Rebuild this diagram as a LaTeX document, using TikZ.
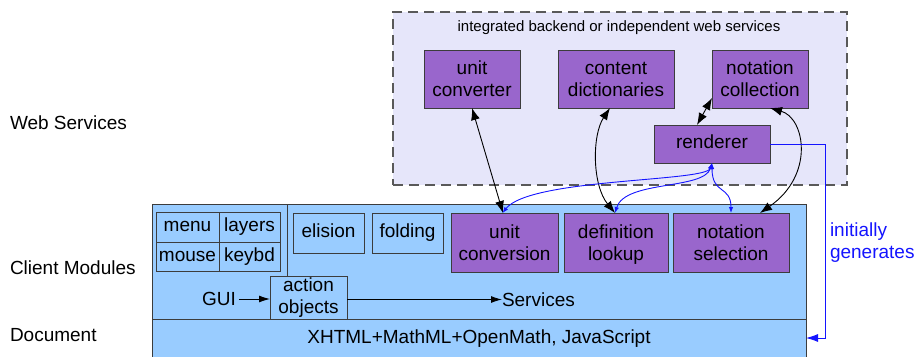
\documentclass[tikz,border=0pt]{standalone}
\usepackage{fontspec}
\setmainfont{Liberation Sans}
\usetikzlibrary{arrows.meta,calc}
\definecolor{purp}{RGB}{153,102,204}
\definecolor{lblue}{RGB}{153,204,255}
\definecolor{lav}{RGB}{230,230,250}
\definecolor{bord}{RGB}{60,60,60}
\definecolor{blueline}{RGB}{20,20,255}
\begin{document}
\begin{tikzpicture}[x=1pt,y=-1pt,
  every node/.style={font=\fontsize{19}{22}\selectfont, inner sep=0pt, outer sep=0pt},
  pbox/.style={draw=bord, line width=1pt, fill=purp, align=center},
  bbox/.style={draw=bord, line width=1pt, fill=lblue, align=center},
  oneline/.style={text height=13.5pt, text depth=4pt},
  blk/.style={line width=0.9pt, {Latex[length=12pt,width=9pt]}-{Latex[length=12pt,width=9pt]}},
  blu/.style={draw=blueline, line width=0.9pt, {Latex[length=6pt,width=4.5pt]}-{Latex[length=6pt,width=4.5pt]}},
  lbl/.style={anchor=west}
]
\useasboundingbox (0,0) rectangle (917,356);
% web services region
\node[draw=black!65, dashed, dash pattern=on 10pt off 6pt, line width=1.4pt, fill=lav,
      minimum width=454pt, minimum height=173pt] (ws) at (620,98.5) {};
\node[font=\fontsize{15}{17}\selectfont] (wstitle) at (619,28) {integrated backend or independent web services};
\node[pbox, minimum width=96pt, minimum height=58pt] (uconv) at (472,79) {unit\\converter};
\node[pbox, minimum width=116pt, minimum height=58pt] (cdict) at (616,79) {content\\dictionaries};
\node[pbox, minimum width=96pt, minimum height=58pt] (ncoll) at (760,79) {notation\\collection};
\node[pbox, oneline, minimum width=116pt, minimum height=38pt] (rend) at (712,144) {renderer};
% client modules
\node[bbox, minimum width=654pt, minimum height=115pt] (client) at (479,261.5) {};
\node[bbox, oneline, minimum width=654pt, minimum height=40pt] (doc) at (479,339) {XHTML+MathML+OpenMath, JavaScript};
\coordinate (divtop) at (287,204);
\coordinate (divbot) at (287,276);
\draw[bord, line width=1pt] (divtop) -- (divbot);
\node[bbox, oneline, minimum width=63pt, minimum height=30pt] (menu) at (187.5,227) {menu};
\node[bbox, oneline, minimum width=61pt, minimum height=30pt] (layers) at (249.5,227) {layers};
\node[bbox, oneline, minimum width=63pt, minimum height=29pt] (mouse) at (187.5,256.5) {mouse};
\node[bbox, oneline, minimum width=61pt, minimum height=29pt] (keybd) at (249.5,256.5) {keybd};
\node[bbox, oneline, minimum width=71pt, minimum height=40pt] (elision) at (328.5,233) {elision};
\node[bbox, oneline, minimum width=71pt, minimum height=40pt] (folding) at (407.5,233) {folding};
\node[pbox, minimum width=107pt, minimum height=59pt] (uconvn) at (504.5,242.5) {unit\\conversion};
\node[pbox, minimum width=104pt, minimum height=59pt] (deflook) at (616,242.5) {definition\\\smash{lookup}};
\node[pbox, minimum width=116pt, minimum height=59pt] (notsel) at (731,242.5) {notation\\selection};
\node[bbox, minimum width=77pt, minimum height=43pt] (action) at (308.5,297.5) {action\\objects};
\node (gui) at (219,299) {GUI};
\node[anchor=west] (serv) at (502,299.5) {Services};
\draw[line width=0.9pt, -{Latex[length=11pt,width=7pt]}] (gui.east) ++(3,0) -- (action.west |- gui.east);
\draw[line width=0.9pt, -{Latex[length=11pt,width=7pt]}] (action.east |- serv.west) -- (serv.west);
% left labels
\node[lbl] (lws) at (10,123) {Web Services};
\node[lbl] (lcm) at (10,268) {Client Modules};
\node[lbl] (ldoc) at (10,335) {Document};
% black connectors
\draw[blk] (uconv.south) -- ($(uconvn.north)+(-1.5,0)$);
\draw[blk] ($(cdict.south)+(-6,0)$) .. controls (592,135) and (592,185) .. ($(deflook.north)+(-1,0)$);
\draw[blk] ($(ncoll.west)+(0,19)$) -- ($(rend.north)+(-15,0)$);
\draw[blk] ($(ncoll.south)+(10,0)$) .. controls (805,118) and (815,175) .. ($(notsel.north)+(29,0)$);
% blue connectors
\draw[blu] (rend.south) .. controls (706,182) and (530,178) .. ($(uconvn.north)+(-2,0)$);
\draw[blu] (rend.south) .. controls (704,190) and (625,180) .. ($(deflook.north)+(-1,0)$);
\draw[blu] (rend.south) .. controls (712,195) and (731,185) .. (notsel.north);
% initially generates
\coordinate (bturn1) at (825,144);
\coordinate (bturn2) at (825,338);
\draw[draw=blueline, line width=0.9pt, -{Latex[length=12pt,width=8pt]}] (rend.east) -- (bturn1) -- (bturn2) -- (doc.east |- bturn2);
\node[anchor=west, align=left, text=blueline] (gen) at (830,243) {initially\\generates};
\end{tikzpicture}
\end{document}
